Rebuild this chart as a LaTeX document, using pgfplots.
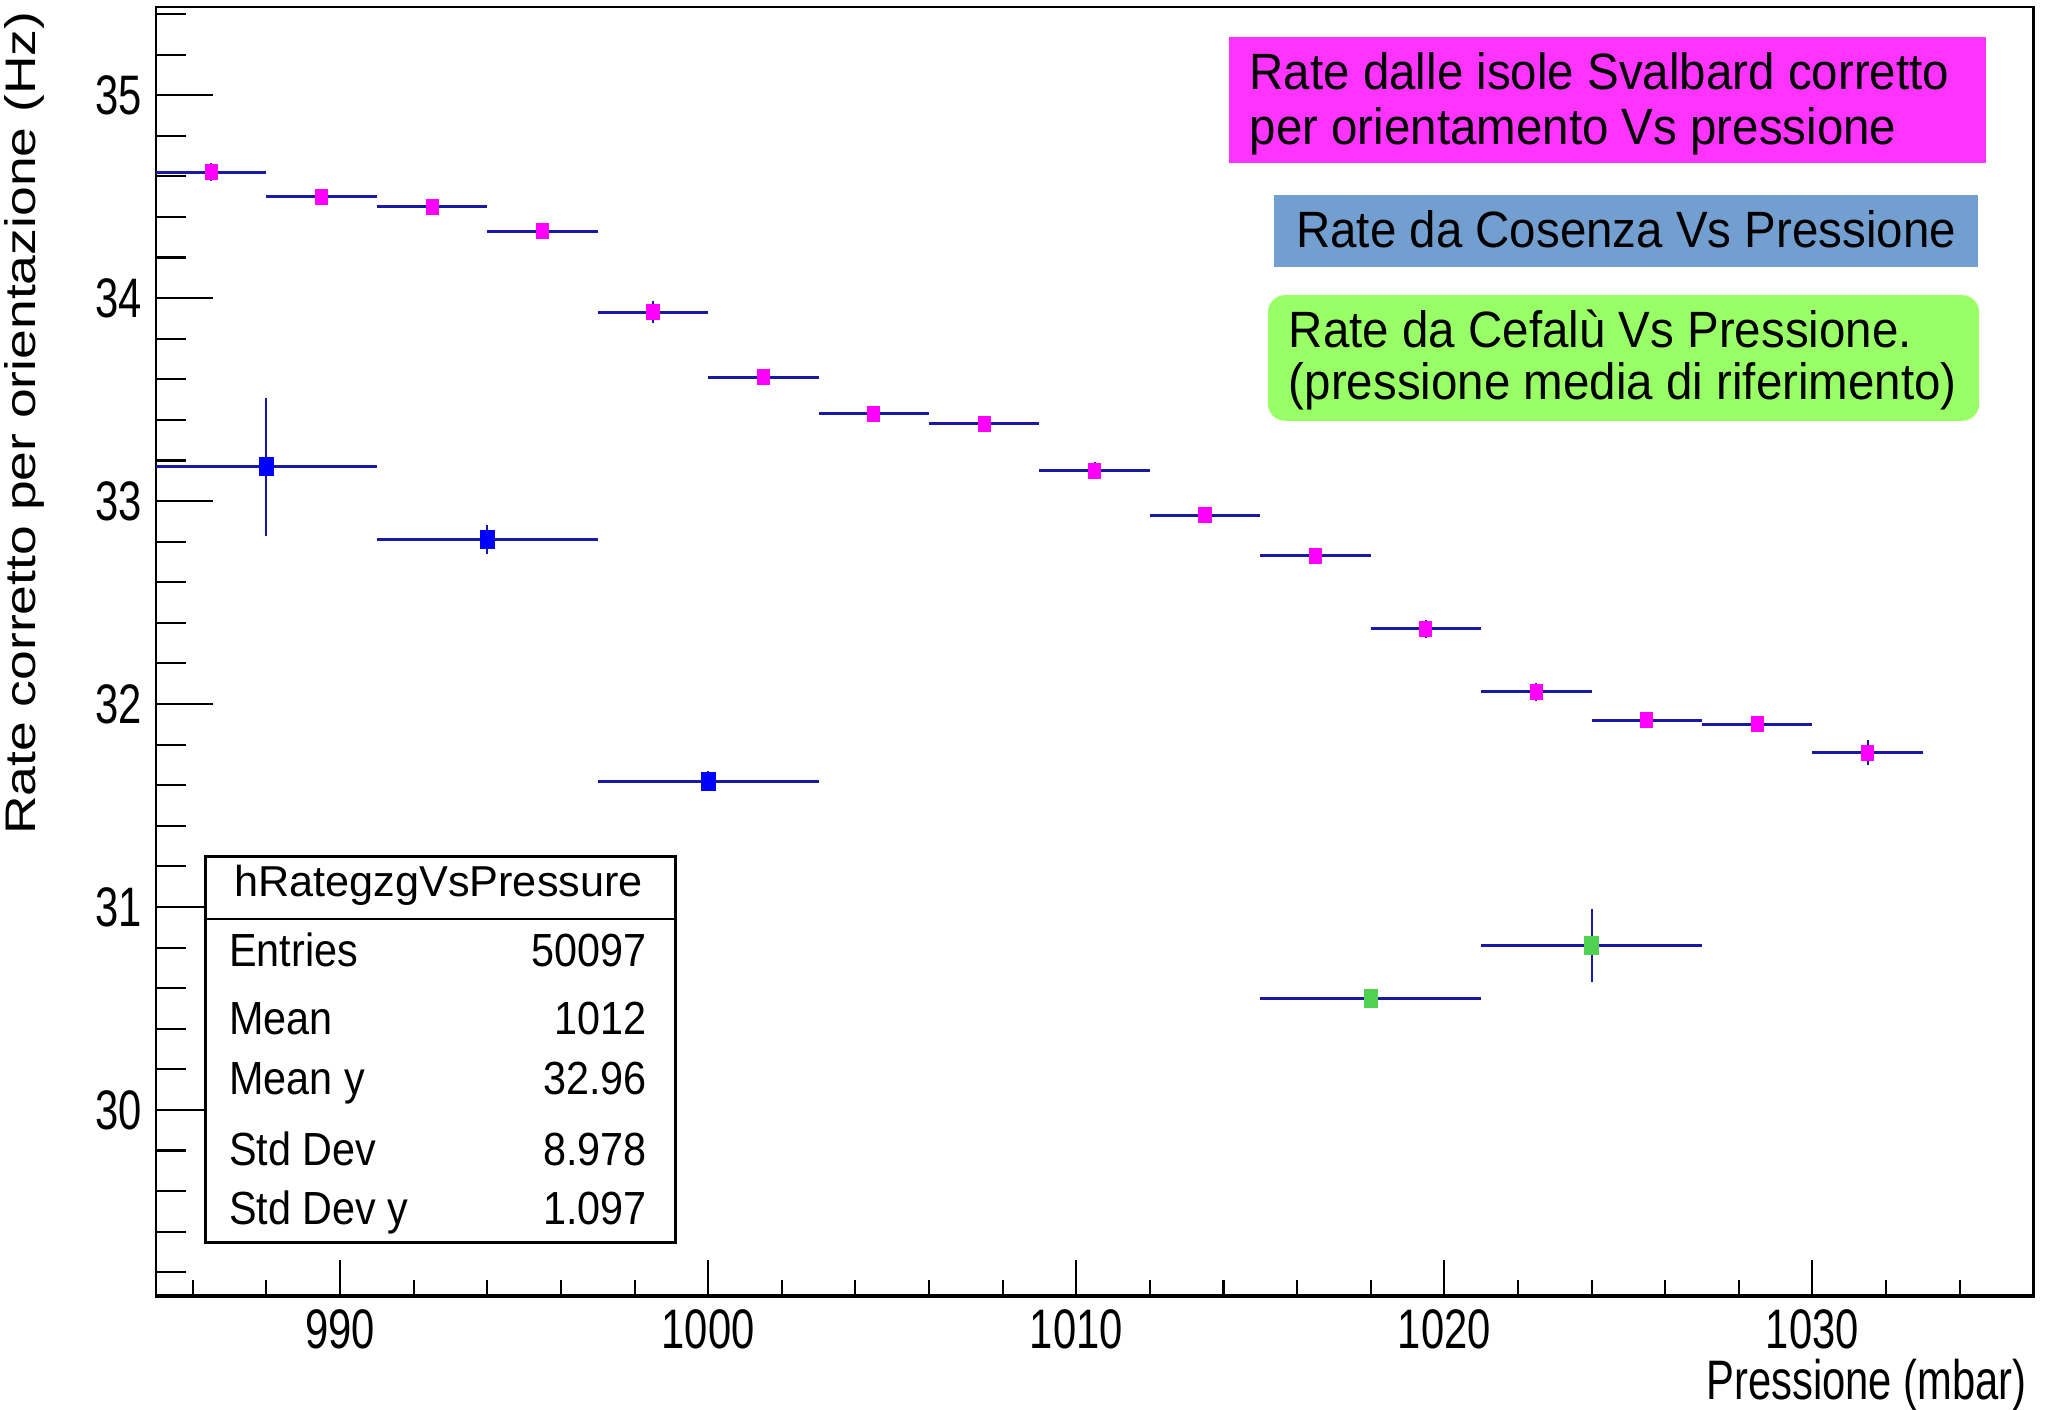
\documentclass[border=0pt]{standalone}
\usepackage{fontspec}
\setmainfont{Liberation Sans}
\newfontfamily\tickfont{Liberation Sans}[FakeStretch=0.75]
\newfontfamily\statfont{Liberation Sans}[FakeStretch=0.89]
\newfontfamily\boxfont{Liberation Sans}[FakeStretch=0.93]
\newfontfamily\ylabfont{Liberation Sans}[FakeStretch=1.25]
\usepackage{pgfplots}
\usepackage{pgfplotstable}
\pgfplotsset{compat=1.18}
\definecolor{barblue}{RGB}{25,25,165}
\definecolor{mag}{RGB}{255,0,255}
\definecolor{pblue}{RGB}{0,0,255}
\definecolor{pgreen}{RGB}{80,210,80}
\definecolor{boxmag}{RGB}{255,51,255}
\definecolor{boxblue}{RGB}{114,159,207}
\definecolor{boxgreen}{RGB}{153,255,102}
\newcommand\ticklabelfont{\tickfont\fontsize{12.1pt}{14pt}\selectfont}

\pgfplotstableread{
x y ex ey
986.5 34.62 1.5 0.045
989.5 34.50 1.5 0.040
992.5 34.45 1.5 0.040
995.5 34.33 1.5 0.040
998.5 33.93 1.5 0.055
1001.5 33.61 1.5 0.040
1004.5 33.43 1.5 0.040
1007.5 33.38 1.5 0.040
1010.5 33.15 1.5 0.040
1013.5 32.93 1.5 0.040
1016.5 32.73 1.5 0.040
1019.5 32.37 1.5 0.045
1022.5 32.06 1.5 0.045
1025.5 31.92 1.5 0.040
1028.5 31.90 1.5 0.040
1031.5 31.76 1.5 0.062
}\svalbard

\pgfplotstableread{
x y ex ey
988 33.17 3 0.34
994 32.81 3 0.07
1000 31.62 3 0.05
}\cosenza

\pgfplotstableread{
x y ex ey
1018 30.55 3 0.03
1024 30.81 3 0.18
}\cefalu

\pgfplotsset{
  hbars/.style={draw=none, mark=none, forget plot,
    error bars/x dir=both, error bars/x explicit,
    error bars/error bar style={draw=barblue, line width=0.65pt},
    error bars/error mark=none},
  vbars/.style={only marks, mark=square*,
    error bars/y dir=both, error bars/y explicit,
    error bars/error bar style={draw=barblue, line width=0.45pt},
    error bars/error mark=none},
}

\begin{document}
\begin{tikzpicture}
\path[use as bounding box] (0,0) rectangle (15.684cm,10.771cm);
\begin{axis}[
  at={(1.192cm,0.865cm)}, anchor=south west,
  scale only axis, width=14.341cm, height=9.852cm,
  xmin=985, xmax=1036, ymin=29.08, ymax=35.434,
  axis line style={line width=0.6pt},
  xtick={990,1000,...,1030}, ytick={30,31,...,35},
  minor xtick={986,988,...,1036}, minor ytick={29.2,29.4,...,35.4},
  tick align=inside, xtick pos=left, ytick pos=left,
  xtick style={/pgfplots/major tick length=0.28cm,/pgfplots/minor tick length=0.13cm, line width=0.45pt, black},
  ytick style={/pgfplots/major tick length=0.436cm,/pgfplots/minor tick length=0.23cm, line width=0.45pt, black},
  tick label style={font=\ticklabelfont},
  /pgf/number format/assume math mode=true,
  /pgf/number format/1000 sep={},
  yticklabel style={anchor=east, inner sep=0pt}, yticklabel shift=0.1cm,
  xticklabel style={anchor=north, inner sep=0pt}, xticklabel shift=0.09cm,
]
% Svalbard
\addplot[hbars] table[x=x, y=y, x error=ex] {\svalbard};
\addplot[vbars, mark size=1.52pt, mark options={xscale=0.81, fill=mag, draw=mag}]
  table[x=x, y=y, y error=ey] {\svalbard};
% Cosenza
\addplot[hbars] table[x=x, y=y, x error=ex] {\cosenza};
\addplot[vbars, mark size=1.85pt, mark options={xscale=0.77, fill=pblue, draw=pblue}]
  table[x=x, y=y, y error=ey] {\cosenza};
% Cefalu
\addplot[hbars] table[x=x, y=y, x error=ex] {\cefalu};
\addplot[vbars, mark size=1.8pt, mark options={xscale=0.75, fill=pgreen, draw=pgreen}]
  table[x=x, y=y, y error=ey] {\cefalu};
\draw[line width=1.3pt] (rel axis cs:0,0) -- (rel axis cs:1,0);
\end{axis}

% axis titles
\node[rotate=90, anchor=base east, inner sep=0pt, font=\ylabfont\fontsize{9.3pt}{11pt}\selectfont]
  at (0.27cm,10.69cm) {Rate corretto per orientazione (Hz)};
\node[anchor=base east, inner sep=0pt, font=\ticklabelfont]
  at (15.49cm,0.08cm) {Pressione (mbar)};

% stats box
\filldraw[fill=white, draw=black, line width=0.6pt] (1.57cm,1.28cm) rectangle (5.16cm,4.23cm);
\draw[line width=0.6pt] (1.57cm,3.75cm) -- (5.16cm,3.75cm);
\node[anchor=base, inner sep=0pt, font=\fontsize{9.4pt}{11pt}\selectfont] at (3.35cm,3.92cm) {hRategzgVsPressure};
\begin{scope}[every node/.style={inner sep=0pt, font=\statfont\fontsize{10.1pt}{12pt}\selectfont}]
\node[anchor=base west] at (1.745cm,3.385cm) {Entries};
\node[anchor=base east] at (4.947cm,3.385cm) {50097};
\node[anchor=base west] at (1.745cm,2.87cm) {Mean};
\node[anchor=base east] at (4.947cm,2.87cm) {1012};
\node[anchor=base west] at (1.745cm,2.41cm) {Mean y};
\node[anchor=base east] at (4.947cm,2.41cm) {32.96};
\node[anchor=base west] at (1.745cm,1.87cm) {Std Dev};
\node[anchor=base east] at (4.947cm,1.87cm) {8.978};
\node[anchor=base west] at (1.745cm,1.42cm) {Std Dev y};
\node[anchor=base east] at (4.947cm,1.42cm) {1.097};
\end{scope}

% coloured label boxes
\fill[boxmag] (9.387cm,9.522cm) rectangle (15.17cm,10.485cm);
\fill[boxblue] (9.736cm,8.728cm) rectangle (15.11cm,9.28cm);
\fill[boxgreen, rounded corners=0.13cm] (9.687cm,7.556cm) rectangle (15.12cm,8.516cm);
\begin{scope}[every node/.style={inner sep=0pt, anchor=base west, font=\boxfont\fontsize{11.1pt}{13pt}\selectfont}]
\node at (9.54cm,10.088cm) {Rate dalle isole Svalbard corretto};
\node at (9.54cm,9.67cm) {per orientamento Vs pressione};
\node at (9.895cm,8.878cm) {Rate da Cosenza Vs Pressione};
\node at (9.84cm,8.114cm) {Rate da Cefalù Vs Pressione.};
\node at (9.84cm,7.72cm) {(pressione media di riferimento)};
\end{scope}
\end{tikzpicture}
\end{document}
